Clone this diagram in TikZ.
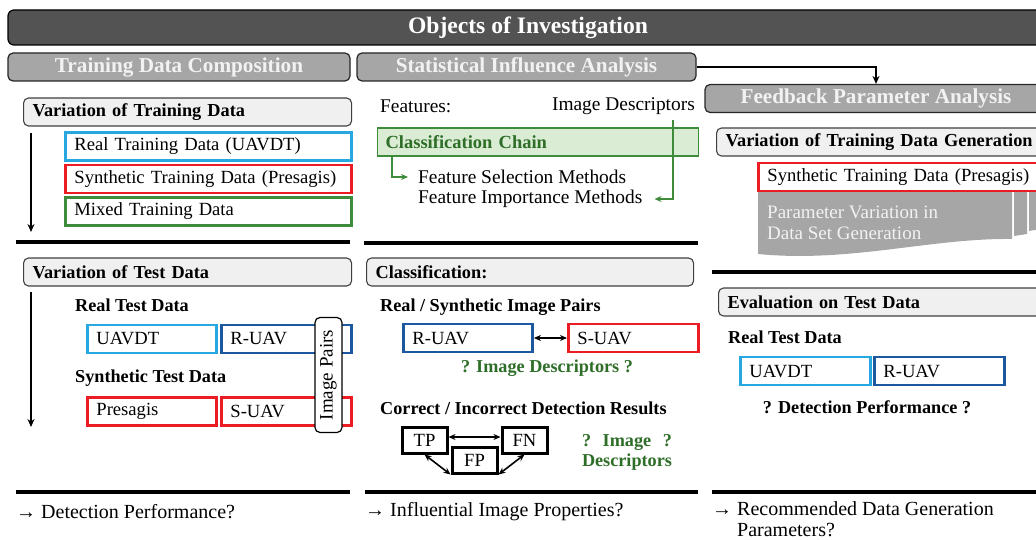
\documentclass[tikz,border=0pt]{standalone}
\usepackage{fontspec}
\setmainfont{Liberation Serif}
\usetikzlibrary{arrows.meta}
\newcommand\fsz[1]{\fontsize{#1}{#1}\selectfont}
\definecolor{titleg}{RGB}{83,83,83}
\definecolor{secg}{RGB}{166,166,166}
\definecolor{sectext}{RGB}{242,242,242}
\definecolor{subfill}{RGB}{240,240,240}
\definecolor{cyanb}{RGB}{40,168,224}
\definecolor{blueb}{RGB}{28,88,160}
\definecolor{redb}{RGB}{236,28,36}
\definecolor{greenb}{RGB}{60,140,60}
\definecolor{greent}{RGB}{46,110,40}
\definecolor{greenf}{RGB}{218,236,212}
\definecolor{docg}{RGB}{166,166,166}
\begin{document}
\begin{tikzpicture}[x=1pt,y=-1pt,
  hdr/.style={draw=black, line width=1.2pt, fill=titleg, rounded corners=6pt, minimum width=1040pt, minimum height=35pt, text=white, font=\bfseries\fsz{23.6}},
  secbar/.style={draw=black!85, line width=1.2pt, fill=secg, rounded corners=5pt, minimum height=28pt, text=sectext, font=\bfseries\fsz{21.2}},
  sub/.style={draw=black!75, line width=1.1pt, fill=subfill, rounded corners=5pt, minimum height=28pt, inner xsep=9pt, anchor=west, align=left, font=\bfseries\fsz{18.3}},
  dbox/.style={line width=2.9pt, fill=white, minimum height=28pt, inner xsep=9pt, anchor=west, align=left, font=\fsz{18.6}},
  lbl/.style={anchor=west, inner sep=0pt, font=\fsz{19.4}},
  blbl/.style={anchor=west, inner sep=0pt, font=\bfseries\fsz{18.2}},
  reslbl/.style={anchor=west, inner sep=0pt, align=left, font=\fontsize{20}{21}\selectfont},
  gq/.style={font=\bfseries\fsz{18.2}, text=greent, inner sep=0pt},
  sepline/.style={line width=3.2pt},
  arr/.style={line width=2pt, -{Stealth[length=8pt,width=7pt]}},
  darr/.style={line width=1.6pt, {Stealth[length=7pt,width=6pt]}-{Stealth[length=7pt,width=6pt]}},
  garr/.style={draw=greenb, line width=1.6pt, -{Stealth[length=7pt,width=6pt]}},
  tpbox/.style={draw=black, line width=3pt, minimum width=45pt, minimum height=26pt, font=\fsz{18.6}, fill=white, inner sep=1pt}
]
\useasboundingbox (0,0) rectangle (1036,540);
\clip (0,0) rectangle (1036,540);

% headers
\node[hdr] (title) at (528,27.5) {Objects of Investigation};
\node[secbar, minimum width=342pt] (tdc) at (179,67) {Training Data Composition};
\node[secbar, minimum width=339pt] (sia) at (526.5,67) {Statistical Influence Analysis};
\node[secbar, minimum width=342pt] (fpa) at (876,98.5) {Feedback Parameter Analysis};
\draw[arr] (sia.east) -| (fpa.north);

% left column
\node[sub, text width=310pt] (vtr) at (23,112) {Variation of Training Data};
\node[dbox, draw=cyanb, text width=268pt] (rtd) at (64,146.5) {Real Training Data (UAVDT)};
\node[dbox, draw=redb, text width=268pt] (std) at (64,179) {Synthetic Training Data (Presagis)};
\node[dbox, draw=greenb, text width=268pt] (mtd) at (64,211.5) {Mixed Training Data};
\coordinate (a1s) at (31,133);
\coordinate (a1e) at (31,232);
\draw[arr] (a1s) -- (a1e);
\draw[sepline] (16,242) -- (350,242);

\node[sub, text width=310pt] (vte) at (23,272) {Variation of Test Data};
\node[blbl] (rtest) at (75,305) {Real Test Data};
\node[dbox, draw=cyanb, text width=111pt] (uav1) at (86,339) {UAVDT};
\node[dbox, draw=blueb, text width=112pt] (ruav1) at (220,339) {R-UAV};
\node[blbl] (stest) at (75,378) {Synthetic Test Data};
\node[dbox, draw=redb, text width=111pt] (pres) at (86,411.5) {Presagis};
\node[dbox, draw=redb, text width=112pt] (suav1) at (220,411.5) {S-UAV};
\node[draw=black, line width=1.2pt, fill=white, rounded corners=5pt, rotate=90, minimum width=115pt, minimum height=27pt, font=\fsz{19}, inner sep=2pt] (ipairs) at (328.5,375) {Image Pairs};
\coordinate (a2s) at (31,292);
\coordinate (a2e) at (31,427);
\draw[arr] (a2s) -- (a2e);
\draw[sepline] (16,492) -- (350,492);
\node[reslbl] (res1) at (16,512) {→ Detection Performance?};

% middle column
\node[lbl] (feat) at (380,106) {Features:};
\node[lbl, anchor=east] (imgd) at (695,106) {Image Descriptors};
\node[draw=greenb, fill=greenf, line width=1.2pt, minimum height=28pt, text width=305pt, inner xsep=8pt, anchor=west, align=left, text=greent, font=\bfseries\fsz{18.5}] (chain) at (377,142) {Classification Chain};
\node[lbl] (fsm) at (418,177) {Feature Selection Methods};
\node[lbl] (fim) at (418,199) {Feature Importance Methods};
\coordinate (g1) at ([xshift=15pt]chain.south west);
\draw[garr] (g1) |- ([xshift=-10pt]fsm.west);
\coordinate (g2) at (673,120);
\draw[garr] (g2) |- ([xshift=12pt]fim.east);
\draw[sepline] (364,243) -- (698,243);

\node[sub, text width=309pt] (cls) at (366,272) {Classification:};
\node[blbl] (rsp) at (380,307) {Real / Synthetic Image Pairs};
\node[dbox, draw=blueb, text width=111pt] (ruav2) at (402,338) {R-UAV};
\node[dbox, draw=redb, text width=112pt] (suav2) at (567,338) {S-UAV};
\draw[darr] (ruav2.east) -- (suav2.west);
\node[gq] (q1) at (547,368) {? Image Descriptors ?};
\node[blbl] (cid) at (380,408) {Correct / Incorrect Detection Results};
\node[tpbox] (tp) at (424.5,440) {TP};
\node[tpbox] (fn) at (524.5,440) {FN};
\node[tpbox] (fp) at (474.5,460) {FP};
\draw[darr] ([yshift=3pt]tp.east) -- ([yshift=3pt]fn.west);
\draw[darr] (tp.south) -- (fp.south west);
\draw[darr] (fn.south) -- (fp.south east);
\node[gq] (q2) at (627,442) {\setbox0\hbox{Descriptors}\hbox to \wd0{?\hfil Image\hfil ?}};
\node[gq] (q3) at (627,462) {Descriptors};
\draw[sepline] (365,492) -- (698,492);
\node[reslbl] (res2) at (365,512) {→ Influential Image Properties?};

% right column
\node[sub, text width=330pt] (vtdg) at (716,142) {Variation of Training Data Generation};
\fill[docg] (1029,192) -- (1040,192) -- (1040,229) -- (1029,231) -- cycle;
\fill[docg] (1014,192) -- (1027,192) -- (1027,234) -- (1014,236) -- cycle;
\fill[docg] (758,191) -- (1012,191) -- (1012,239) .. controls (930,238) and (850,263) .. (758,254) -- cycle;
\node[dbox, draw=redb, text width=280pt] (std2) at (757,177) {Synthetic Training Data (Presagis)};
\node[lbl, text=sectext, align=left, font=\fontsize{19}{21}\selectfont] (pv) at (767,222.5) {Parameter Variation in\\Data Set Generation};
\draw[sepline] (712,272) -- (1036,272);

\node[sub, text width=330pt] (etd) at (718,302) {Evaluation on Test Data};
\node[blbl] (rtest2) at (728,337) {Real Test Data};
\node[dbox, draw=cyanb, text width=112pt] (uav3) at (739,371) {UAVDT};
\node[dbox, draw=blueb, text width=112pt] (ruav3) at (873,371) {R-UAV};
\node[font=\bfseries\fsz{18.2}, inner sep=0pt] (dp) at (867,407) {? Detection Performance ?};
\draw[sepline] (712,492) -- (1036,492);
\node[reslbl] (res3) at (712,519.5) {→ Recommended Data Generation\\\hspace*{25pt}Parameters?};
\end{tikzpicture}
\end{document}
